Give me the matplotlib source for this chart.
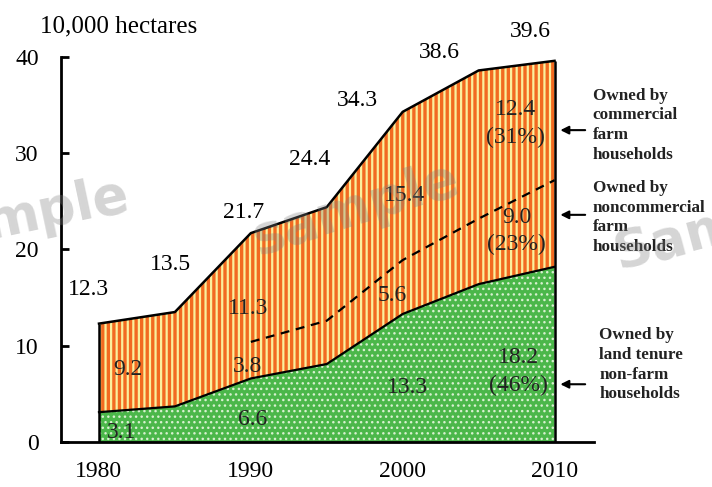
import matplotlib.pyplot as plt

plt.rcParams['font.family'] = ['Liberation Serif', 'DejaVu Serif']

# farmland area, 10,000 ha
years = [1980, 1985, 1990, 1995, 2000, 2005, 2010]
total = [12.3, 13.5, 21.7, 24.4, 34.3, 38.6, 39.6]
non_farm = [3.1, 3.7, 6.6, 8.1, 13.3, 16.4, 18.2]
# noncommercial farm households (counted from 1990)
nc_years = [1990, 1995, 2000, 2005, 2010]
noncommercial = [3.8, 4.5, 5.6, 6.8, 9.0]

total_labels = [(1979.3, 15.8), (1984.7, 18.4), (1989.5, 23.8), (1993.9, 29.3),
                (1997.0, 35.5), (2002.4, 40.5), (2008.4, 42.6)]

GREEN = '#4bb74a'
ORANGE = '#f26a21'
YELLOW = '#faf09c'
FS = 17

fig = plt.figure(figsize=(7.12, 4.87), dpi=100)
ax = fig.add_axes([0.0857, 0.0924, 0.7486, 0.7906])

nc_top = [non_farm[years.index(y)] + v for y, v in zip(nc_years, noncommercial)]

plt.rcParams['hatch.linewidth'] = 1.0
ax.fill_between(years, 0, non_farm, facecolor=GREEN, edgecolor='#d8f0d0',
                hatch='...', linewidth=0)
plt.rcParams['hatch.linewidth'] = 2.4
ax.fill_between(years, non_farm, total, facecolor=YELLOW, edgecolor=ORANGE,
                hatch='|||', linewidth=0)

ax.plot(years, total, color='black', lw=1.8)
ax.plot(years, non_farm, color='black', lw=1.6)
ax.vlines([years[0], years[-1]], 0, [total[0], total[-1]], color='black', lw=1.8)
ax.plot(nc_years, nc_top, color='black', lw=1.6, dashes=(4, 3))

ax.set_xlim(1977.5, 2012.6)
ax.set_ylim(0, 40)
ax.spines['top'].set_visible(False)
ax.spines['right'].set_visible(False)
ax.spines['left'].set_bounds(0, 40)
ax.spines['left'].set_linewidth(2)
ax.spines['bottom'].set_linewidth(2)
ax.set_yticks([0, 10, 20, 30, 40])
ax.tick_params(axis='y', direction='in', length=6, width=2, pad=16, labelsize=FS)
ax.set_xticks([1980, 1990, 2000, 2010])
ax.tick_params(axis='x', length=0, pad=14, labelsize=FS)

ax.text(-0.04, 1.08, '10,000 hectares', transform=ax.transAxes, fontsize=FS + 1,
        ha='left', va='center')

# totals above the area
for (x, y), v in zip(total_labels, total):
    ax.text(x, y, f'{v:.1f}', fontsize=FS, ha='center', va='center')

# values inside the layers
commercial = [t - n for t, n in zip(total, non_farm)]
inner = [
    (1981.9, 7.5, f'{commercial[0]:.1f}'),
    (1981.5, 1.0, f'{non_farm[0]:.1f}'),
    (1989.8, 13.9, f'{total[2] - nc_top[0]:.1f}'),
    (1989.8, 7.8, f'{noncommercial[0]:.1f}'),
    (1990.1, 2.3, f'{non_farm[2]:.1f}'),
    (2000.1, 25.6, f'{total[4] - nc_top[2]:.1f}'),
    (1999.3, 15.2, f'{noncommercial[2]:.1f}'),
    (2000.3, 5.7, f'{non_farm[4]:.1f}'),
]
for x, y, s in inner:
    ax.text(x, y, s, fontsize=FS, ha='center', va='center', color='#222222')

last_com = total[-1] - nc_top[-1]
shares = [
    (2007.4, 33.1, last_com),
    (2007.5, 21.9, noncommercial[-1]),
    (2007.6, 7.3, non_farm[-1]),
]
for x, y, v in shares:
    ax.text(x, y, f'{v:.1f}\n({v / total[-1] * 100:.0f}%)', fontsize=FS,
            ha='center', va='center', linespacing=1.4, color='#222222')

# side legend with arrows
side = [
    (32.4, 36.8, 2012.5, 'Owned by\ncommercial\nfarm\nhouseholds'),
    (23.6, 27.2, 2012.5, 'Owned by\nnoncommercial\nfarm\nhouseholds'),
    (6.0, 11.9, 2012.95, 'Owned by\nland tenure\nnon-farm\nhouseholds'),
]
for ya, yt, xt, s in side:
    ax.annotate('', xy=(2010.2, ya), xytext=(2012.2, ya),
                arrowprops=dict(arrowstyle='-|>', color='black', lw=1.5,
                                mutation_scale=12),
                annotation_clip=False)
    ax.text(xt, yt, s, fontsize=12.3, fontweight='bold', ha='left', va='top',
            linespacing=1.3, color='#222222')

# watermark
for x, y, rot, s in [(0.08, 0.57, 12, 'mple'), (0.50, 0.57, 17, 'sample'),
                     (0.95, 0.51, 15, 'Sam')]:
    fig.text(x, y, s, fontsize=38, fontweight='bold', family='DejaVu Sans',
             color='gray', alpha=0.33, rotation=rot, ha='center', va='center')

fig.savefig('out.png', dpi=100)
